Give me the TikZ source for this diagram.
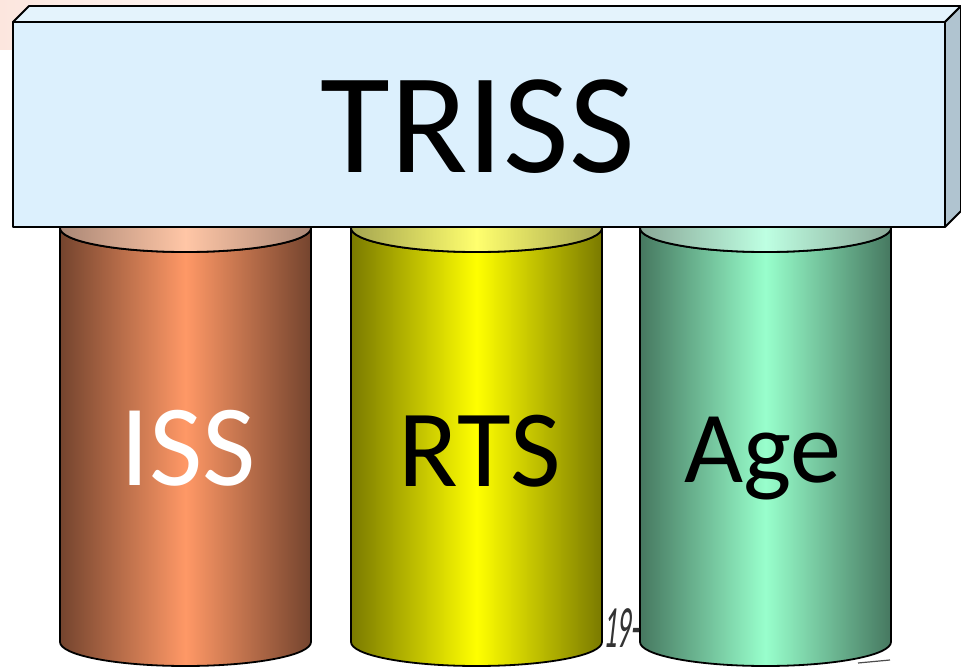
\documentclass[tikz,border=0pt]{standalone}
\usepackage{fontspec}
\setmainfont{Carlito}
\newfontfamily\handfont[FakeSlant=0.25]{Carlito}
\definecolor{boxfront}{RGB}{220,240,253}
\definecolor{boxtop}{RGB}{228,243,252}
\definecolor{boxside}{RGB}{176,196,208}
\definecolor{issdark}{RGB}{116,68,46}
\definecolor{isslight}{RGB}{255,152,102}
\definecolor{isstopd}{RGB}{170,135,118}
\definecolor{isstopl}{RGB}{255,198,166}
\definecolor{rtsdark}{RGB}{122,122,0}
\definecolor{rtslight}{RGB}{255,255,0}
\definecolor{rtstopd}{RGB}{165,165,80}
\definecolor{rtstopl}{RGB}{255,255,110}
\definecolor{agedark}{RGB}{70,120,96}
\definecolor{agelight}{RGB}{152,255,204}
\definecolor{agetopd}{RGB}{138,168,152}
\definecolor{agetopl}{RGB}{190,255,226}
\definecolor{smudge}{RGB}{252,230,222}
\tikzset{
  edge/.style={draw=black, line width=1.8pt, line join=round},
  bigtext/.style={anchor=base, inner sep=0pt},
}
\newcommand{\mycyl}[6]{%
  \pgfmathsetmacro{\rx}{(#2-#1)/2}
  \path[edge, left color=#5, right color=#5, middle color=#6]
    (#1,-#3) -- (#1,-#4) arc[start angle=180, end angle=360, x radius=\rx, y radius=24]
    -- (#2,-#3) arc[start angle=360, end angle=180, x radius=\rx, y radius=24] -- cycle;
}
\newcommand{\mycyltop}[5]{%
  \pgfmathsetmacro{\rx}{(#2-#1)/2}
  \pgfmathsetmacro{\cx}{(#1+#2)/2}
  \path[edge, left color=#4, right color=#4, middle color=#5]
    (\cx,-#3) ellipse[x radius=\rx, y radius=24];
}
\begin{document}
\begin{tikzpicture}[x=1pt,y=1pt]
\useasboundingbox (0,0) rectangle (961,-668);
% background smudge
\fill[left color=smudge, right color=white] (0,0) rectangle (320,-50);
% cylinders
\mycyl{60}{311}{228}{642}{issdark}{isslight}
\mycyltop{60}{311}{228}{isstopd}{isstopl}
\mycyl{351}{602}{228}{642}{rtsdark}{rtslight}
\mycyltop{351}{602}{228}{rtstopd}{rtstopl}
\mycyl{640}{891}{228}{642}{agedark}{agelight}
\mycyltop{640}{891}{228}{agetopd}{agetopl}
% handwritten marks
\node[text=black!80, font=\handfont\fontsize{60}{60}\selectfont, xscale=0.45, inner sep=0pt] (hand) at (621,-628) {19-};
\draw[black!70, line width=1.2pt] (858,-663) -- (890,-660);
% box
\path[edge, fill=boxtop] (13,-22) -- (29,-6) -- (961,-6) -- (945,-22) -- cycle;
\path[edge, fill=boxside] (945,-22) -- (961,-6) -- (961,-211) -- (945,-227) -- cycle;
\path[edge, fill=boxfront] (13,-22) rectangle (945,-227);
% labels
\node[bigtext, font=\fontsize{143}{143}\selectfont] (triss) at (478,-173) {TRISS};
\node[bigtext, text=white, font=\fontsize{116}{116}\selectfont] (iss) at (188,-485) {ISS};
\node[bigtext, font=\fontsize{110}{110}\selectfont] (rts) at (480,-486) {RTS};
\node[bigtext, font=\fontsize{102}{102}\selectfont] (age) at (763,-482) {Age};
\end{tikzpicture}
\end{document}
